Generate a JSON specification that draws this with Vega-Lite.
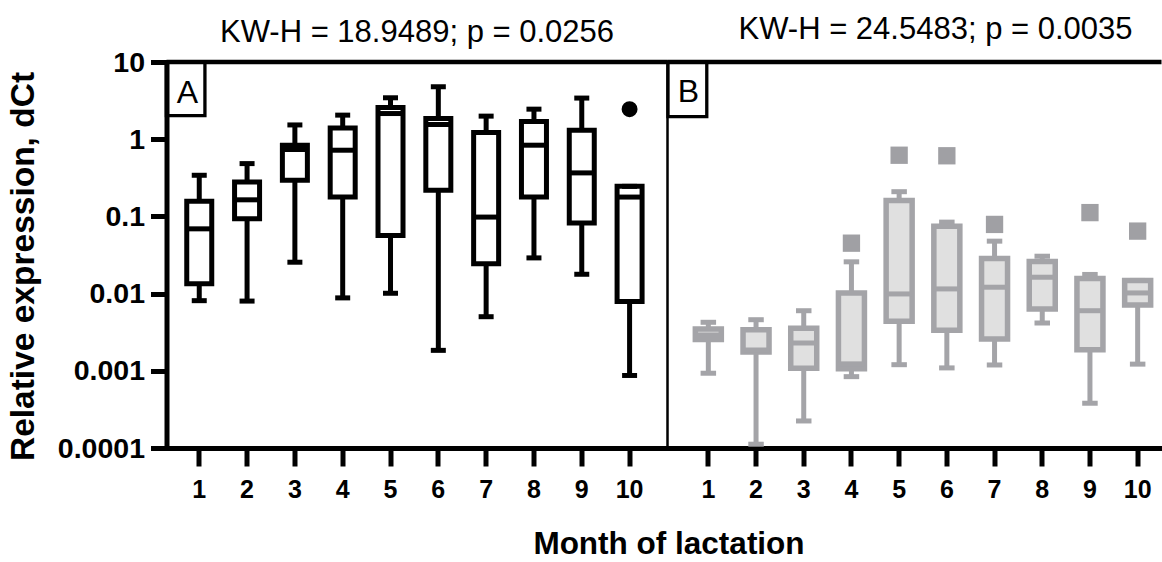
{
  "$schema": "https://vega.github.io/schema/vega-lite/v6.json",
  "padding": {"left": 4.5, "top": 14, "right": 0, "bottom": 0},
  "background": "white",
  "bounds": "flush",
  "config": {
    "font": "Liberation Sans",
    "view": {"stroke": null},
    "axis": {"grid": false, "domainColor": "black", "tickColor": "black", "labelColor": "black", "titleColor": "black", "labelFont": "Liberation Sans", "titleFont": "Liberation Sans"},
    "title": {"font": "Liberation Sans", "fontSize": 31, "fontWeight": "normal", "color": "black", "anchor": "middle", "frame": "group", "baseline": "alphabetic", "offset": -1}
  },
  "datasets": {
    "boxA": [
      {"month": 1, "lo": 0.0081, "q1": 0.0134, "med": 0.069, "q3": 0.157, "hi": 0.341},
      {"month": 2, "lo": 0.008, "q1": 0.093, "med": 0.164, "q3": 0.279, "hi": 0.483},
      {"month": 3, "lo": 0.0255, "q1": 0.294, "med": 0.735, "q3": 0.836, "hi": 1.53},
      {"month": 4, "lo": 0.0088, "q1": 0.178, "med": 0.72, "q3": 1.4, "hi": 2.05},
      {"month": 5, "lo": 0.0101, "q1": 0.0567, "med": 2.15, "q3": 2.58, "hi": 3.44},
      {"month": 6, "lo": 0.00184, "q1": 0.218, "med": 1.55, "q3": 1.85, "hi": 4.78},
      {"month": 7, "lo": 0.00502, "q1": 0.0243, "med": 0.098, "q3": 1.22, "hi": 1.99},
      {"month": 8, "lo": 0.029, "q1": 0.178, "med": 0.836, "q3": 1.69, "hi": 2.45},
      {"month": 9, "lo": 0.0178, "q1": 0.082, "med": 0.366, "q3": 1.31, "hi": 3.41},
      {"month": 10, "lo": 0.00087, "q1": 0.0079, "med": 0.178, "q3": 0.245, "hi": 0.245}
    ],
    "outA": [
      {"month": 10, "value": 2.45}
    ],
    "boxB": [
      {"month": 1, "lo": 0.00093, "q1": 0.00255, "med": 0.00291, "q3": 0.00347, "hi": 0.00425},
      {"month": 2, "lo": 0.000112, "q1": 0.00175, "med": 0.00186, "q3": 0.0034, "hi": 0.00459},
      {"month": 3, "lo": 0.000224, "q1": 0.00108, "med": 0.00229, "q3": 0.00355, "hi": 0.006},
      {"month": 4, "lo": 0.00084, "q1": 0.00106, "med": 0.00123, "q3": 0.0102, "hi": 0.0258},
      {"month": 5, "lo": 0.0012, "q1": 0.00438, "med": 0.0099, "q3": 0.161, "hi": 0.209},
      {"month": 6, "lo": 0.00109, "q1": 0.00334, "med": 0.0115, "q3": 0.0748, "hi": 0.0843},
      {"month": 7, "lo": 0.00119, "q1": 0.00258, "med": 0.0121, "q3": 0.0285, "hi": 0.0478},
      {"month": 8, "lo": 0.00416, "q1": 0.0063, "med": 0.0163, "q3": 0.026, "hi": 0.0305},
      {"month": 9, "lo": 0.00038, "q1": 0.00188, "med": 0.006, "q3": 0.0157, "hi": 0.0177},
      {"month": 10, "lo": 0.00122, "q1": 0.00713, "med": 0.0102, "q3": 0.0148, "hi": 0.0148}
    ],
    "outB": [
      {"month": 4, "value": 0.045},
      {"month": 5, "value": 0.62},
      {"month": 6, "value": 0.61},
      {"month": 7, "value": 0.0787},
      {"month": 9, "value": 0.112},
      {"month": 10, "value": 0.0645}
    ]
  },
  "spacing": 0,
  "resolve": {"scale": {"x": "independent", "y": "independent"}},
  "hconcat": [
    {
      "width": 501,
      "height": 386,
      "view": {"stroke": "black", "strokeWidth": 2.5},
      "title": {"text": "KW-H = 18.9489; p = 0.0256"},
      "encoding": {
        "x": {
          "field": "month", "type": "ordinal",
          "scale": {"domain": [1, 2, 3, 4, 5, 6, 7, 8, 9, 10], "paddingInner": 0, "paddingOuter": 0.239, "align": 0.387},
          "axis": {
            "labelAngle": 0, "domainWidth": 5, "tickWidth": 5, "tickSize": 18,
            "labelFontSize": 25, "labelFontWeight": "bold", "labelPadding": 11,
            "title": "Month of lactation", "titleFontSize": 31.5, "titleFontWeight": "bold",
            "titleX": 502, "titleY": 105, "titleAlign": "center", "titleBaseline": "alphabetic"
          }
        }
      },
      "layer": [
        {
          "data": {"name": "boxA"},
          "mark": {"type": "rule", "color": "black", "strokeWidth": 5},
          "encoding": {
            "y": {
              "field": "lo", "type": "quantitative",
              "scale": {"type": "log", "domain": [0.0001, 10]},
              "axis": {
                "values": [0.0001, 0.001, 0.01, 0.1, 1, 10], "format": "~g",
                "domainWidth": 5, "tickWidth": 5, "tickSize": 16,
                "labelFontSize": 28.5, "labelFontWeight": "bold", "labelPadding": 6,
                "title": "Relative expression, dCt", "titleFontSize": 33.5, "titleFontWeight": "bold",
                "titleX": -133, "titleY": 204, "titleAlign": "center", "titleBaseline": "alphabetic", "titleAngle": 270
              }
            },
            "y2": {"field": "hi"}
          }
        },
        {
          "data": {"name": "boxA"},
          "mark": {"type": "bar", "width": 25, "fill": "white", "stroke": "black", "strokeWidth": 5},
          "encoding": {
            "y": {"field": "q1", "type": "quantitative"},
            "y2": {"field": "q3"}
          }
        },
        {
          "data": {"name": "boxA"},
          "mark": {"type": "tick", "color": "black", "size": 25, "thickness": 5, "opacity": 1},
          "encoding": {"y": {"field": "med", "type": "quantitative"}}
        },
        {
          "data": {"name": "boxA"},
          "mark": {"type": "tick", "color": "black", "size": 15, "thickness": 5, "opacity": 1},
          "encoding": {"y": {"field": "hi", "type": "quantitative"}}
        },
        {
          "data": {"name": "boxA"},
          "mark": {"type": "tick", "color": "black", "size": 15, "thickness": 5, "opacity": 1},
          "encoding": {"y": {"field": "lo", "type": "quantitative"}}
        },
        {
          "data": {"name": "outA"},
          "mark": {"type": "circle", "size": 254, "color": "black", "opacity": 1},
          "encoding": {"y": {"field": "value", "type": "quantitative"}}
        },
        {
          "data": {"values": [{}]},
          "mark": {"type": "rule", "color": "black", "strokeWidth": 4.5},
          "encoding": {"x": null, "y": {"datum": 10, "type": "quantitative"}}
        },
        {
          "data": {"values": [{}]},
          "mark": {"type": "point", "shape": "M-0.717,-1L0.717,-1L0.717,1L-0.717,1Z", "size": 2884, "filled": false, "stroke": "black", "strokeWidth": 3.3, "opacity": 1},
          "encoding": {"x": {"datum": 1, "type": "ordinal", "bandPosition": 0.216}, "y": {"datum": 4.49, "type": "quantitative"}}
        },
        {
          "data": {"values": [{}]},
          "mark": {"type": "text", "text": "A", "font": "Liberation Sans", "fontSize": 32, "align": "center", "baseline": "alphabetic", "color": "black"},
          "encoding": {"x": {"datum": 1, "type": "ordinal", "bandPosition": 0.253}, "y": {"datum": 2.97, "type": "quantitative"}}
        }
      ]
    },
    {
      "width": 494,
      "height": 386,
      "view": {"stroke": null},
      "title": {"text": "KW-H = 24.5483; p = 0.0035", "dx": 21, "offset": 9},
      "encoding": {
        "x": {
          "field": "month", "type": "ordinal",
          "scale": {"domain": [1, 2, 3, 4, 5, 6, 7, 8, 9, 10], "paddingInner": 0, "paddingOuter": 0.178, "align": 1},
          "axis": {
            "labelAngle": 0, "domainWidth": 5, "tickWidth": 5, "tickSize": 18,
            "labelFontSize": 25, "labelFontWeight": "bold", "labelPadding": 11, "title": null
          }
        }
      },
      "layer": [
        {
          "data": {"name": "boxB"},
          "mark": {"type": "rule", "color": "#a4a4a8", "strokeWidth": 5},
          "encoding": {
            "y": {"field": "lo", "type": "quantitative", "scale": {"type": "log", "domain": [0.0001, 10]}, "axis": null},
            "y2": {"field": "hi"}
          }
        },
        {
          "data": {"name": "boxB"},
          "mark": {"type": "bar", "width": 26, "fill": "#e0e0e0", "stroke": "#a4a4a8", "strokeWidth": 5.5},
          "encoding": {
            "y": {"field": "q1", "type": "quantitative"},
            "y2": {"field": "q3"}
          }
        },
        {
          "data": {"name": "boxB"},
          "mark": {"type": "tick", "color": "#a4a4a8", "size": 26, "thickness": 5, "opacity": 1},
          "encoding": {"y": {"field": "med", "type": "quantitative"}}
        },
        {
          "data": {"name": "boxB"},
          "mark": {"type": "tick", "color": "#a4a4a8", "size": 15.5, "thickness": 5, "opacity": 1},
          "encoding": {"y": {"field": "hi", "type": "quantitative"}}
        },
        {
          "data": {"name": "boxB"},
          "mark": {"type": "tick", "color": "#a4a4a8", "size": 15.5, "thickness": 5, "opacity": 1},
          "encoding": {"y": {"field": "lo", "type": "quantitative"}}
        },
        {
          "data": {"name": "outB"},
          "mark": {"type": "square", "size": 300, "color": "#a0a0a4", "opacity": 1},
          "encoding": {"y": {"field": "value", "type": "quantitative"}}
        },
        {
          "data": {"values": [{}]},
          "mark": {"type": "rule", "color": "black", "strokeWidth": 4.5},
          "encoding": {"x": null, "y": {"datum": 10, "type": "quantitative"}}
        },
        {
          "data": {"values": [{}]},
          "mark": {"type": "point", "shape": "M-0.709,-1L0.709,-1L0.709,1L-0.709,1Z", "size": 2992, "filled": false, "stroke": "black", "strokeWidth": 3.3, "opacity": 1},
          "encoding": {"x": {"datum": 1, "type": "ordinal", "bandPosition": 0.061}, "y": {"datum": 4.42, "type": "quantitative"}}
        },
        {
          "data": {"values": [{}]},
          "mark": {"type": "text", "text": "B", "font": "Liberation Sans", "fontSize": 32, "align": "center", "baseline": "alphabetic", "color": "black"},
          "encoding": {"x": {"datum": 1, "type": "ordinal", "bandPosition": 0.08}, "y": {"datum": 3.06, "type": "quantitative"}}
        }
      ]
    }
  ]
}
